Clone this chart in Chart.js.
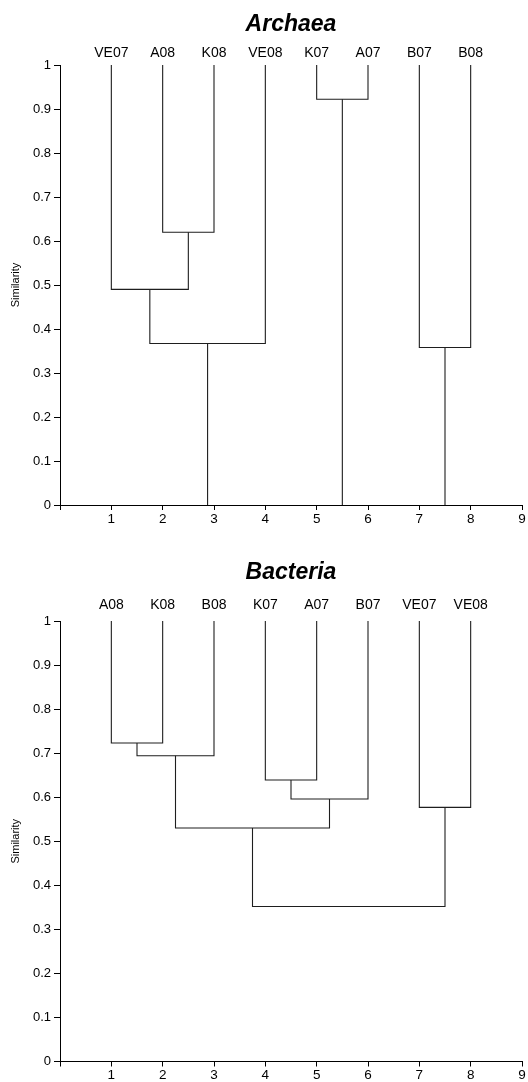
<!DOCTYPE html>
<html>
<head>
<meta charset="utf-8">
<title>Archaea / Bacteria dendrograms</title>
<script src="https://cdn.jsdelivr.net/npm/chart.js@4.4.1/dist/chart.umd.min.js"></script>
<style>
  html, body { margin: 0; padding: 0; background: #fff; }
  .panel { position: absolute; left: 0; width: 528px; height: 541px; }
</style>
</head>
<body>
<div class="panel" style="top:0"><canvas id="archaeaChart" width="528" height="541"></canvas></div>
<div class="panel" style="top:541px"><canvas id="bacteriaChart" width="528" height="541"></canvas></div>
<script>
// Leaf order along the x axis (positions 1..8)
const archaeaLeaves = ["VE07", "A08", "K08", "VE08", "K07", "A07", "B07", "B08"];
// Merge i joins node A with node B at similarity H.
// Leaves are nodes 0-7, every merge adds a new node (8, 9, ...)
const archaeaMergeA = [1, 0, 9, 4, 6];
const archaeaMergeB = [2, 8, 3, 5, 7];
const archaeaMergeH = [0.62, 0.49, 0.367, 0.922, 0.358];

const bacteriaLeaves = ["A08", "K08", "B08", "K07", "A07", "B07", "VE07", "VE08"];
const bacteriaMergeA = [0, 8, 3, 10, 9, 6, 12];
const bacteriaMergeB = [1, 2, 4, 5, 11, 7, 13];
const bacteriaMergeH = [0.723, 0.694, 0.639, 0.596, 0.53, 0.577, 0.352];

// Axis ticks
const xTickValues = [0, 1, 2, 3, 4, 5, 6, 7, 8, 9];
const yTickValues = [0, 0.1, 0.2, 0.3, 0.4, 0.5, 0.6, 0.7, 0.8, 0.9, 1];

const FONT = "'Liberation Sans', Arial, Helvetica, sans-serif";
const LINE_COLOR = "#1e1e1e";

// Turn the merge lists into U-shaped line segments
function buildSegments(leaves, mergeA, mergeB, mergeH, rootStems) {
  const nodeX = leaves.map((_, i) => i + 1);
  const nodeY = leaves.map(() => 1);
  const used = new Set();
  const segments = [];

  mergeH.forEach((h, i) => {
    const a = mergeA[i];
    const b = mergeB[i];
    segments.push([
      { x: nodeX[a], y: nodeY[a] },
      { x: nodeX[a], y: h },
      { x: nodeX[b], y: h },
      { x: nodeX[b], y: nodeY[b] },
    ]);
    nodeX.push((nodeX[a] + nodeX[b]) / 2);
    nodeY.push(h);
    used.add(a);
    used.add(b);
  });

  // stems from each unjoined cluster down to 0
  if (rootStems) {
    nodeX.forEach((x, n) => {
      if (!used.has(n)) segments.push([{ x: x, y: nodeY[n] }, { x: x, y: 0 }]);
    });
  }
  return segments;
}

function makeDendrogram(canvasId, title, leaves, segments, box) {
  const ctx = document.getElementById(canvasId);
  new Chart(ctx, {
    type: "scatter",
    data: {
      datasets: segments.map((seg) => ({
        data: seg,
        showLine: true,
        borderColor: LINE_COLOR,
        borderWidth: 1.1,
        pointRadius: 0,
        tension: 0,
        fill: false,
      })),
    },
    options: {
      responsive: false,
      animation: false,
      events: [],
      layout: { padding: { left: 0, right: 6, top: 0, bottom: 0 } },
      plugins: {
        legend: { display: false },
        tooltip: { enabled: false },
        title: {
          display: true,
          text: title,
          fullSize: false,
          color: "#000",
          font: { family: FONT, size: 23, weight: "bold", style: "italic", lineHeight: 1.2 },
          padding: { top: box.titleTop, bottom: 0 },
        },
      },
      scales: {
        x: {
          type: "linear",
          position: "bottom",
          min: 0,
          max: 9,
          afterBuildTicks: (scale) => {
            scale.ticks = xTickValues.map((v) => ({ value: v }));
          },
          afterFit: (scale) => {
            scale.height = box.xHeight;
          },
          ticks: {
            color: "#000",
            font: { family: FONT, size: 13.5 },
            padding: 1,
            maxRotation: 0,
            autoSkip: false,
            callback: (v) => (v === 0 ? "" : String(v)),
          },
          grid: { drawOnChartArea: false, drawTicks: true, tickLength: 5, color: "#000" },
          border: { display: true, color: "#000", width: 1 },
        },
        leaves: {
          type: "linear",
          position: "top",
          min: 0,
          max: 9,
          afterBuildTicks: (scale) => {
            scale.ticks = leaves.map((_, i) => ({ value: i + 1 }));
          },
          afterFit: (scale) => {
            scale.height = box.leafHeight;
          },
          ticks: {
            color: "#000",
            font: { family: FONT, size: 14 },
            padding: box.leafPad,
            maxRotation: 0,
            autoSkip: false,
            callback: (v) => leaves[v - 1] || "",
          },
          grid: { display: false, drawTicks: false },
          border: { display: false },
        },
        y: {
          type: "linear",
          position: "left",
          min: 0,
          max: 1,
          afterBuildTicks: (scale) => {
            scale.ticks = yTickValues.map((v) => ({ value: v }));
          },
          afterFit: (scale) => {
            scale.width = 60;
          },
          ticks: {
            color: "#000",
            font: { family: FONT, size: 13 },
            padding: 3,
            callback: (v) => String(v),
          },
          grid: { drawOnChartArea: false, drawTicks: true, tickLength: 6, color: "#000" },
          border: { display: true, color: "#000", width: 1 },
          title: {
            display: true,
            text: "Similarity",
            color: "#000",
            font: { family: FONT, size: 11, lineHeight: 1.2 },
            padding: { top: 9, bottom: 0 },
          },
        },
      },
    },
  });
}

document.addEventListener("DOMContentLoaded", function () {
  makeDendrogram(
    "archaeaChart",
    "Archaea",
    archaeaLeaves,
    buildSegments(archaeaLeaves, archaeaMergeA, archaeaMergeB, archaeaMergeH, true),
    { titleTop: 10.4, leafHeight: 27, leafPad: 3.6, xHeight: 36 }
  );

  makeDendrogram(
    "bacteriaChart",
    "Bacteria",
    bacteriaLeaves,
    buildSegments(bacteriaLeaves, bacteriaMergeA, bacteriaMergeB, bacteriaMergeH, false),
    { titleTop: 18.2, leafHeight: 34.2, leafPad: 7.3, xHeight: 20.5 }
  );
});
</script>
</body>
</html>
